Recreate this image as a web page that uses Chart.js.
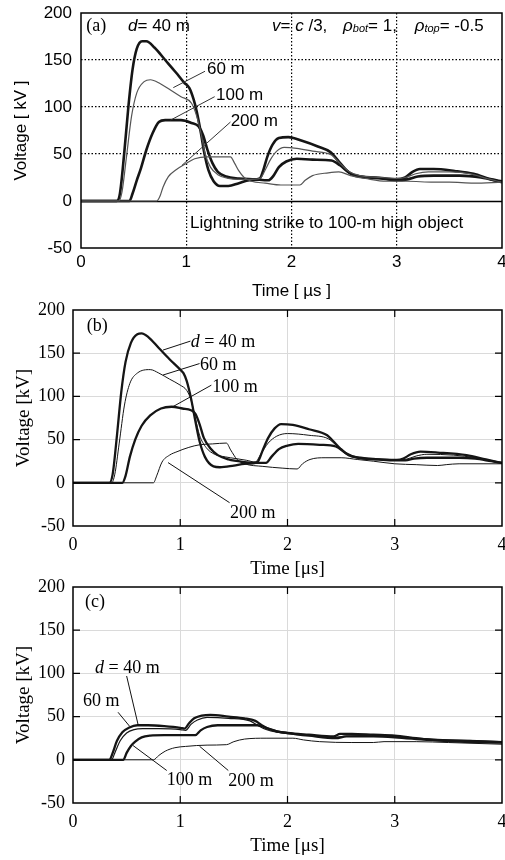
<!DOCTYPE html>
<html>
<head>
<meta charset="utf-8">
<title>Induced voltage waveforms</title>
<script src="https://cdn.jsdelivr.net/npm/chart.js@4.4.1/dist/chart.umd.min.js"></script>
<style>
	html, body { margin: 0; padding: 0; background: #fff; }
	#page { position: relative; width: 505px; height: 860px; overflow: hidden; }
	#page canvas { position: absolute; left: 0; }
</style>
</head>
<body>
<div id="page">
	<canvas id="chart-a" width="505" height="305" style="top:0"></canvas>
	<canvas id="chart-b" width="505" height="292" style="top:293px"></canvas>
	<canvas id="chart-c" width="505" height="285" style="top:575px"></canvas>
</div>
<script>
const sans = '"Liberation Sans", Arial, sans-serif';
const serif = '"Liberation Serif", "Times New Roman", serif';

// ticks shared by the three panels
const timeTicks = [0, 1, 2, 3, 4];
const voltTicks = [-50, 0, 50, 100, 150, 200];

// panel (a): [time µs, voltage kV]
const a40 = [[0, 0], [0.34, 0], [0.37, 8], [0.41, 50], [0.45, 100], [0.49, 140], [0.53, 162], [0.58, 170], [0.62, 170], [0.7, 163], [0.8, 150], [0.9, 137], [0.98, 126], [1.03, 120], [1.07, 108], [1.1, 95], [1.14, 72], [1.17, 52], [1.21, 33], [1.26, 21], [1.32, 16], [1.4, 16], [1.5, 19], [1.6, 22], [1.7, 24], [1.73, 32], [1.77, 47], [1.82, 60], [1.88, 67], [1.97, 68], [2.1, 64], [2.25, 58], [2.37, 52], [2.45, 42], [2.52, 33], [2.6, 27], [2.8, 25], [3.0, 23], [3.08, 25], [3.15, 31], [3.22, 34], [3.35, 34], [3.55, 32], [3.73, 29], [3.9, 23], [4.0, 21]];
const a60 = [[0, 0], [0.36, 0], [0.39, 10], [0.43, 45], [0.48, 90], [0.53, 115], [0.6, 127], [0.66, 129], [0.75, 125], [0.85, 118], [0.95, 111], [1.05, 104], [1.1, 90], [1.14, 72], [1.18, 50], [1.23, 36], [1.3, 28], [1.4, 24], [1.5, 23], [1.6, 23], [1.7, 24], [1.75, 33], [1.8, 44], [1.86, 53], [1.93, 57], [2.05, 56], [2.2, 53], [2.38, 49], [2.46, 40], [2.55, 31], [2.65, 27], [2.85, 25], [3.0, 24], [3.08, 25], [3.18, 29], [3.3, 31], [3.5, 31], [3.7, 29], [3.85, 24], [4.0, 20]];
const a100 = [[0, 0], [0.46, 0], [0.49, 8], [0.53, 22], [0.57, 35], [0.62, 54], [0.68, 72], [0.74, 84], [0.8, 86], [0.95, 86], [1.05, 83], [1.12, 79], [1.16, 70], [1.2, 55], [1.25, 40], [1.3, 31], [1.38, 26], [1.5, 24], [1.65, 23], [1.78, 22], [1.83, 27], [1.88, 36], [1.95, 42], [2.05, 45], [2.2, 44], [2.38, 43], [2.46, 38], [2.55, 30], [2.65, 26], [2.85, 24], [3.0, 22], [3.1, 23], [3.2, 26], [3.35, 27], [3.6, 27], [3.8, 25], [4.0, 20]];
const a200 = [[0, 0], [0.72, 0], [0.75, 5], [0.78, 15], [0.83, 26], [0.9, 33], [1.0, 40], [1.08, 45], [1.2, 47], [1.42, 47], [1.46, 40], [1.5, 32], [1.55, 25], [1.62, 21], [1.75, 19], [1.9, 17], [2.08, 17], [2.13, 22], [2.2, 27], [2.35, 30], [2.45, 31], [2.56, 27], [2.7, 24], [2.9, 21], [3.1, 21], [3.35, 20], [3.5, 20], [3.73, 19], [4.0, 20]];

// panel (b)
const b40 = [[0, 0], [0.34, 0], [0.37, 10], [0.41, 55], [0.45, 105], [0.49, 140], [0.54, 162], [0.6, 172], [0.64, 173], [0.7, 169], [0.8, 156], [0.9, 143], [1.0, 131], [1.03, 127], [1.06, 118], [1.1, 98], [1.14, 72], [1.18, 48], [1.23, 30], [1.31, 19], [1.37, 18], [1.5, 20], [1.6, 22], [1.72, 24], [1.77, 38], [1.82, 52], [1.88, 63], [1.94, 68], [2.05, 67], [2.2, 62], [2.37, 55], [2.42, 49], [2.49, 40], [2.57, 32], [2.68, 29], [2.85, 27], [3.02, 26.5], [3.08, 28], [3.15, 33], [3.24, 36], [3.4, 35], [3.67, 32], [3.85, 27], [4.0, 23]];
const b60 = [[0, 0], [0.36, 0], [0.39, 10], [0.43, 45], [0.48, 90], [0.53, 115], [0.6, 127], [0.72, 131], [0.8, 127], [0.9, 120], [1.0, 113], [1.06, 107], [1.1, 96], [1.14, 75], [1.18, 55], [1.24, 41], [1.32, 33], [1.42, 30], [1.52, 28], [1.62, 26], [1.7, 24], [1.75, 33], [1.82, 46], [1.9, 54], [2.0, 57], [2.2, 55], [2.38, 51], [2.45, 44], [2.55, 34], [2.65, 29], [2.85, 27], [3.0, 26], [3.1, 27], [3.2, 31], [3.3, 33], [3.55, 32], [3.75, 29], [3.9, 25], [4.0, 23]];
const b100 = [[0, 0], [0.46, 0], [0.49, 8], [0.53, 30], [0.58, 50], [0.64, 66], [0.72, 78], [0.82, 86], [0.92, 88], [1.02, 86], [1.1, 84], [1.14, 80], [1.18, 68], [1.22, 52], [1.28, 40], [1.35, 32], [1.45, 27], [1.6, 24], [1.72, 23], [1.8, 23], [1.85, 30], [1.92, 39], [2.0, 43], [2.1, 45], [2.3, 44], [2.45, 42], [2.55, 34], [2.65, 29], [2.85, 27], [3.0, 26], [3.1, 26], [3.18, 28], [3.3, 29], [3.6, 29], [3.75, 28], [3.9, 25], [4.0, 23]];
const b200 = [[0, 0], [0.75, 0], [0.78, 8], [0.83, 24], [0.9, 32], [0.97, 36], [1.08, 41], [1.18, 44], [1.3, 45], [1.43, 46], [1.47, 38], [1.53, 27], [1.6, 22], [1.77, 19], [1.95, 17], [2.09, 16], [2.14, 22], [2.21, 27], [2.35, 29], [2.5, 29], [2.65, 27], [2.8, 25], [3.0, 22], [3.2, 21], [3.4, 20], [3.48, 21], [3.6, 22], [4.0, 22]];

// panel (c)
const c40 = [[0, 0], [0.34, 0], [0.37, 8], [0.41, 22], [0.46, 32], [0.52, 37], [0.6, 40], [0.7, 40], [0.85, 39], [1.0, 37], [1.04, 36], [1.08, 42], [1.13, 48], [1.2, 51], [1.28, 52], [1.45, 50], [1.6, 48], [1.7, 45], [1.76, 40], [1.82, 36], [1.9, 33], [2.0, 31], [2.2, 29], [2.43, 27], [2.49, 30], [2.6, 30], [2.8, 29], [3.0, 28], [3.2, 25], [3.36, 23], [3.7, 22], [4.0, 20.5]];
const c60 = [[0, 0], [0.36, 0], [0.39, 8], [0.44, 22], [0.5, 31], [0.57, 35], [0.65, 36], [0.8, 36], [1.0, 35], [1.05, 34], [1.1, 41], [1.16, 46], [1.25, 49], [1.45, 48], [1.65, 45], [1.72, 40], [1.8, 35], [1.9, 32], [2.0, 31], [2.2, 29], [2.45, 26], [2.52, 27], [2.7, 28], [3.0, 27], [3.2, 25], [3.5, 23], [4.0, 21]];
const c100 = [[0, 0], [0.47, 0], [0.5, 8], [0.54, 16], [0.58, 21], [0.64, 26], [0.72, 28], [0.85, 28.5], [1.0, 28.5], [1.14, 28.5], [1.19, 34], [1.25, 38], [1.35, 40], [1.55, 40], [1.72, 40], [1.8, 37], [1.9, 33], [2.0, 31], [2.2, 28], [2.45, 25], [2.55, 27], [2.8, 27], [3.0, 26], [3.3, 23], [3.6, 21], [4.0, 20]];
const c200 = [[0, 0], [0.75, 0], [0.8, 5], [0.86, 10], [0.95, 14], [1.05, 15.5], [1.25, 17], [1.43, 17.5], [1.5, 21], [1.6, 24], [1.8, 25], [2.05, 25], [2.15, 23], [2.3, 21], [2.6, 20], [2.8, 20], [2.9, 21], [3.2, 21], [3.5, 20], [4.0, 18]];

// labels and leader lines, in data units
const notesA = [
	{ t: 0.05, v: 186, parts: [['(a)', '18px ' + serif]] },
	{ t: 0.447, v: 186, parts: [['d', 'italic 17px ' + sans], ['= 40 m', '17px ' + sans]] },
	{ t: 1.815, v: 186, parts: [['v', 'italic 17px ' + sans], ['= ', '17px ' + sans], ['c', 'italic 17px ' + sans], [' /3,', '17px ' + sans]] },
	{ t: 2.49, v: 186, parts: [['ρ', 'italic 17px ' + sans], ['bot', 'italic 11px ' + sans, 3], ['= 1,', '17px ' + sans]] },
	{ t: 3.17, v: 186, parts: [['ρ', 'italic 17px ' + sans], ['top', 'italic 11px ' + sans, 3], ['= -0.5', '17px ' + sans]] },
	{ t: 1.197, v: 140, parts: [['60 m', '17px ' + sans]] },
	{ t: 1.283, v: 112, parts: [['100 m', '17px ' + sans]] },
	{ t: 1.422, v: 85, parts: [['200 m', '17px ' + sans]] },
	{ t: 1.036, v: -23.4, parts: [['Lightning strike to 100-m high object', '17px ' + sans]] }
];
const leadersA = [[[0.877, 120.6], [1.178, 138]], [[0.85, 86], [1.27, 111]], [[0.96, 38], [1.42, 84]]];

const notesB = [
	{ t: 0.128, v: 181.6, parts: [['(b)', '18px ' + serif]] },
	{ t: 1.097, v: 162.5, parts: [['d', 'italic 18px ' + serif], [' = 40 m', '18px ' + serif]] },
	{ t: 1.184, v: 136.3, parts: [['60 m', '18px ' + serif]] },
	{ t: 1.299, v: 110, parts: [['100 m', '18px ' + serif]] },
	{ t: 1.464, v: -35, parts: [['200 m', '18px ' + serif]] }
];
const leadersB = [[[0.839, 153.6], [1.095, 164]], [[0.839, 124.7], [1.18, 138]], [[0.92, 87.3], [1.29, 113]], [[0.886, 23.4], [1.46, -23]]];

const notesC = [
	{ t: 0.112, v: 182, parts: [['(c)', '18px ' + serif]] },
	{ t: 0.205, v: 106.2, parts: [['d', 'italic 18px ' + serif], [' = 40 m', '18px ' + serif]] },
	{ t: 0.093, v: 67.3, parts: [['60 m', '18px ' + serif]] },
	{ t: 0.874, v: -23.9, parts: [['100 m', '18px ' + serif]] },
	{ t: 1.448, v: -24.7, parts: [['200 m', '18px ' + serif]] }
];
const leadersC = [[[0.609, 39.6], [0.5, 97]], [[0.53, 38.5], [0.42, 55]], [[0.56, 16.5], [0.874, -12.4]], [[1.18, 15.7], [1.448, -12.4]]];

const get = id => document.getElementById(id);

const series = (points, width, color) => ({
	data: points.map(p => ({ x: p[0], y: p[1] })),
	borderColor: color,
	borderWidth: width,
	pointRadius: 0,
	fill: false,
	cubicInterpolationMode: 'monotone',
	borderJoinStyle: 'round'
});

const drawParts = (ctx, x, y, parts) => {
	ctx.textAlign = 'left';
	ctx.textBaseline = 'middle';
	ctx.fillStyle = '#000';
	for (const part of parts) {
		ctx.font = part[1];
		ctx.fillText(part[0], x, y + (part[2] || 0));
		x += ctx.measureText(part[0]).width;
	}
};

const isEdge = (c, list) => c.tick && (c.tick.value === list[0] || c.tick.value === list[list.length - 1]);

const panel = (id, p) => {
	return new Chart(get(id), {
		type: 'line',
		data: { datasets: p.datasets },
		plugins: [{
			id: 'decor',
			beforeDatasetsDraw: chart => {
				if (!p.zeroLine) {
					return;
				}
				const { ctx, chartArea: area, scales: { y } } = chart;
				const y0 = Math.round(y.getPixelForValue(0)) + 0.5;
				ctx.save();
				ctx.strokeStyle = '#000';
				ctx.lineWidth = 1.3;
				ctx.beginPath();
				ctx.moveTo(area.left, y0);
				ctx.lineTo(area.right, y0);
				ctx.stroke();
				ctx.restore();
			},
			afterDatasetsDraw: chart => {
				const { ctx, chartArea: area, scales: { x, y } } = chart;
				ctx.save();
				ctx.strokeStyle = '#000';
				ctx.lineWidth = p.frameWidth;
				ctx.strokeRect(area.left, area.top, area.right - area.left, area.bottom - area.top);
				if (p.innerTicks) {
					ctx.lineWidth = 1.2;
					ctx.beginPath();
					timeTicks.slice(1, -1).forEach(v => {
						const px = x.getPixelForValue(v);
						ctx.moveTo(px, area.top);
						ctx.lineTo(px, area.top + p.innerTicks);
						ctx.moveTo(px, area.bottom);
						ctx.lineTo(px, area.bottom - p.innerTicks);
					});
					voltTicks.slice(1, -1).forEach(v => {
						const py = y.getPixelForValue(v);
						ctx.moveTo(area.left, py);
						ctx.lineTo(area.left + p.innerTicks, py);
						ctx.moveTo(area.right, py);
						ctx.lineTo(area.right - p.innerTicks, py);
					});
					ctx.stroke();
				}
				ctx.strokeStyle = p.leaderColor;
				ctx.lineWidth = 1;
				ctx.beginPath();
				p.leaders.forEach(l => {
					ctx.moveTo(x.getPixelForValue(l[0][0]), y.getPixelForValue(l[0][1]));
					ctx.lineTo(x.getPixelForValue(l[1][0]), y.getPixelForValue(l[1][1]));
				});
				ctx.stroke();
				p.notes.forEach(n => drawParts(ctx, x.getPixelForValue(n.t), y.getPixelForValue(n.v), n.parts));
				ctx.restore();
			}
		}],
		options: {
			responsive: false,
			animation: false,
			devicePixelRatio: 1,
			layout: { padding: { left: 0, right: 3, top: p.top, bottom: 0 } },
			plugins: { legend: { display: false }, tooltip: { enabled: false } },
			scales: {
				x: {
					type: 'linear',
					min: 0,
					max: 4,
					afterBuildTicks: s => { s.ticks = timeTicks.map(v => ({ value: v })); },
					afterFit: s => { s.height = p.xHeight; s.paddingLeft = 0; s.paddingRight = 0; },
					ticks: { padding: p.xPad, font: p.tickFont, color: '#000', maxRotation: 0, autoSkip: false },
					grid: { drawTicks: false, lineWidth: p.gridWidth, color: c => isEdge(c, timeTicks) ? 'rgba(0,0,0,0)' : p.gridColor },
					border: { display: false, dash: p.dash },
					title: { display: true, text: p.xTitle, font: p.titleFont, color: '#000', padding: { top: 0, bottom: p.xTitlePad } }
				},
				y: {
					type: 'linear',
					min: -50,
					max: 200,
					afterBuildTicks: s => { s.ticks = voltTicks.map(v => ({ value: v })); },
					afterFit: s => { s.width = p.yWidth; s.paddingTop = 0; s.paddingBottom = 0; },
					ticks: { padding: p.yPad, font: p.tickFont, color: '#000', autoSkip: false },
					grid: { drawTicks: false, lineWidth: p.gridWidth, color: c => isEdge(c, voltTicks) || (p.zeroLine && c.tick && c.tick.value === 0) ? 'rgba(0,0,0,0)' : p.gridColor },
					border: { display: false, dash: p.dash },
					title: { display: true, text: p.yTitle, font: p.titleFont, color: '#000', padding: { top: p.yTitlePad, bottom: 0 } }
				}
			}
		}
	});
};

const dark = '#151515';
const grey = '#555';

panel('chart-a', {
	datasets: [series(a200, 1.2, grey), series(a60, 1.2, grey), series(a100, 2.6, dark), series(a40, 2.6, dark)],
	notes: notesA,
	leaders: leadersA,
	leaderColor: '#333',
	top: 13,
	xHeight: 57,
	yWidth: 81,
	xPad: 4,
	yPad: 9,
	xTitlePad: 3,
	yTitlePad: 11,
	xTitle: 'Time [ µs ]',
	yTitle: 'Voltage [ kV ]',
	tickFont: { family: sans, size: 17 },
	titleFont: { family: sans, size: 17 },
	gridColor: '#000',
	gridWidth: 1.2,
	dash: [1.5, 2],
	zeroLine: true,
	frameWidth: 1.5,
	innerTicks: 0
});

const serifPanel = (id, datasets, notes, leaders, top, xHeight, xTitlePad) => panel(id, {
	datasets: datasets,
	notes: notes,
	leaders: leaders,
	leaderColor: '#111',
	top: top,
	xHeight: xHeight,
	yWidth: 73,
	xPad: 8,
	yPad: 8,
	xTitlePad: xTitlePad,
	yTitlePad: 13,
	xTitle: 'Time [μs]',
	yTitle: 'Voltage [kV]',
	tickFont: { family: serif, size: 18 },
	titleFont: { family: serif, size: 19 },
	gridColor: '#dadada',
	gridWidth: 1,
	dash: [],
	zeroLine: false,
	frameWidth: 1.5,
	innerTicks: 7
});

serifPanel('chart-b', [series(b200, 1, dark), series(b60, 1, dark), series(b100, 2.3, dark), series(b40, 2.3, dark)], notesB, leadersB, 17, 59, 5);
serifPanel('chart-c', [series(c200, 1, dark), series(c60, 1.2, dark), series(c100, 2.3, dark), series(c40, 2.3, dark)], notesC, leadersC, 12, 57, 3);
</script>
</body>
</html>
